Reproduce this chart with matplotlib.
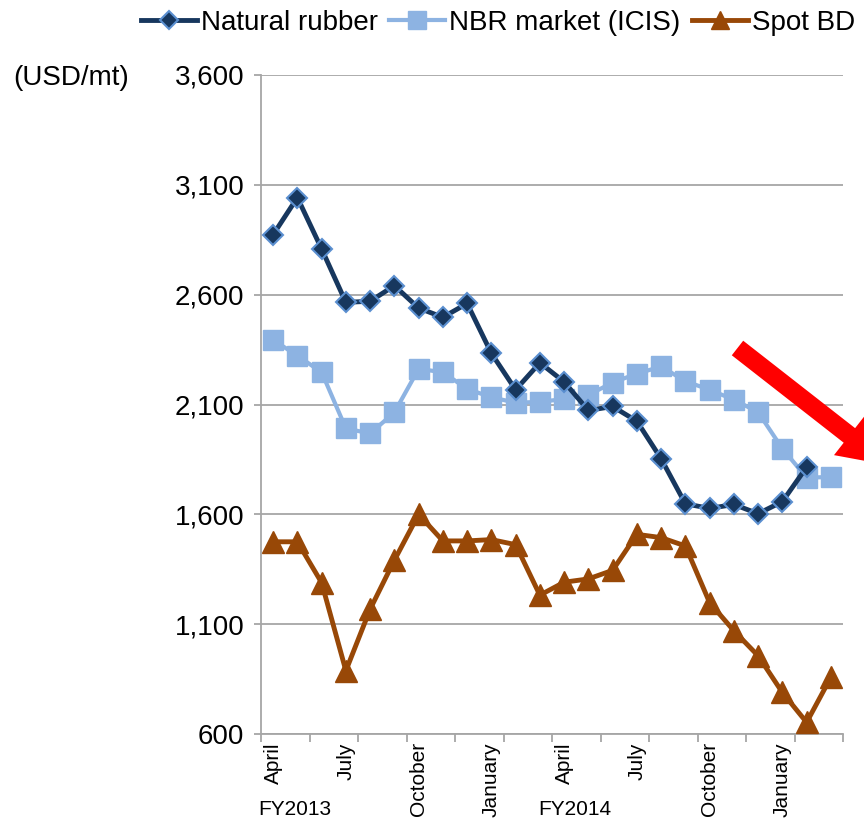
import numpy as np
import matplotlib
matplotlib.use("Agg")
import matplotlib.pyplot as plt
from matplotlib.patches import FancyArrow
from matplotlib.transforms import IdentityTransform

plt.rcParams["font.family"] = ["Liberation Sans", "DejaVu Sans"]

# monthly prices, April FY2013 -> March FY2014 (+ next year)
natural_rubber = [2873, 3042, 2808, 2565, 2570, 2641, 2539, 2497, 2560, 2333, 2167, 2290,
                  2203, 2073, 2091, 2024, 1853, 1648, 1627, 1645, 1603, 1658, 1815]
nbr_market = [2394, 2322, 2247, 1991, 1968, 2064, 2262, 2247, 2171, 2133, 2108, 2112,
              2125, 2143, 2200, 2240, 2273, 2206, 2167, 2122, 2065, 1899, 1767, 1770]
spot_bd = [1475, 1475, 1289, 888, 1168, 1391, 1600, 1479, 1479, 1485, 1462, 1232,
           1291, 1306, 1345, 1509, 1494, 1456, 1198, 1070, 956, 789, 653, 858]

month_labels = ["April", "July", "October", "January", "April", "July", "October", "January"]
fy_labels = ["FY2013", "FY2014"]
yticks = [600, 1100, 1600, 2100, 2600, 3100, 3600]

fig = plt.figure(figsize=(8.64, 8.19), dpi=100)
ax = fig.add_axes([261 / 864, 1 - 734 / 819, (843 - 261) / 864, (734 - 75) / 819])

ax.plot(np.arange(len(spot_bd)), spot_bd, color="#984807", lw=3.5, marker="^", ms=16,
        label="Spot BD", zorder=3)
ax.plot(np.arange(len(nbr_market)), nbr_market, color="#8DB3E2", lw=3, marker="s", ms=15,
        label="NBR market (ICIS)", zorder=4)
ax.plot(np.arange(len(natural_rubber)), natural_rubber, color="#17375E", lw=3.5, marker="D",
        ms=10.5, mfc="#17375E", mec="#5B8FD0", mew=1.5, label="Natural rubber", zorder=5)

ax.set_xlim(-0.5, 23.5)
ax.set_ylim(600, 3600)
ax.set_yticks(yticks)
ax.set_yticklabels([f"{v:,}" for v in yticks], fontsize=20)
ax.grid(axis="y", color="#A6A6A6", lw=1.3)
ax.set_axisbelow(True)
ax.tick_params(axis="y", length=5, width=1.3, color="#A6A6A6", pad=7)

# tick marks every 2 months on the boundaries, labels every 3 months
ax.set_xticks(np.arange(-0.5, 24, 2))
ax.set_xticklabels([])
ax.set_xticks(np.arange(0, 24, 3), minor=True)
ax.set_xticklabels(month_labels, minor=True, rotation=90, fontsize=15, va="top")
ax.tick_params(axis="x", which="major", length=6, width=1.3, color="#A6A6A6")
ax.tick_params(axis="x", which="minor", length=0, pad=6)

for s in ["top", "right"]:
    ax.spines[s].set_visible(False)
for s in ["left", "bottom"]:
    ax.spines[s].set_color("#A6A6A6")
    ax.spines[s].set_linewidth(1.3)

ax.text(-0.62, -0.115, fy_labels[0], transform=ax.get_xaxis_transform(), fontsize=15, va="center")
ax.text(10.95, -0.115, fy_labels[1], transform=ax.get_xaxis_transform(), fontsize=15, va="center")

fig.text(13 / 864, 1 - 78 / 819, "(USD/mt)", fontsize=20, va="center")

h, l = ax.get_legend_handles_labels()
fig.legend(h[::-1], l[::-1], loc="center left", bbox_to_anchor=(141 / 864, 1 - 23 / 819),
           ncol=3, frameon=False, fontsize=20, handlelength=2.0, handletextpad=0.15,
           columnspacing=0.42, borderaxespad=0, borderpad=0, markerscale=0.85)

# red trend arrow, partly off the figure
ang = np.deg2rad(38)
L = 190
fig.add_artist(FancyArrow(737.5, 819 - 348, L * np.cos(ang), -L * np.sin(ang), width=18.5,
                          head_width=50, head_length=48, length_includes_head=True,
                          color="#FF0000", lw=0, transform=IdentityTransform()))

fig.savefig("out.png", dpi=100)
